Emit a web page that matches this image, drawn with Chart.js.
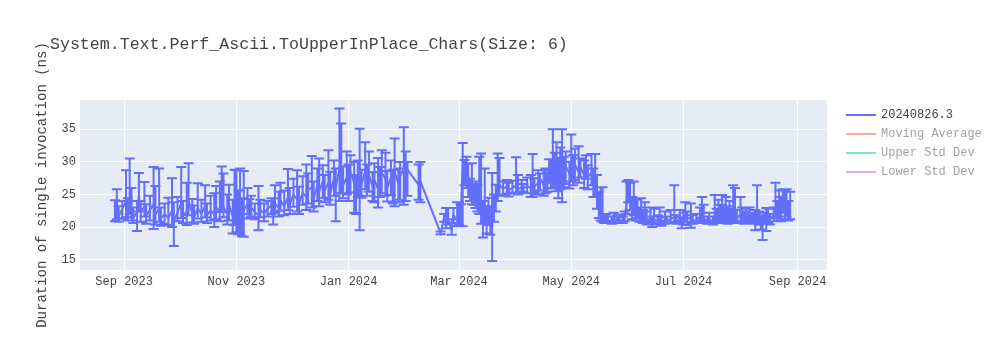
<!DOCTYPE html>
<html>
<head>
<meta charset="utf-8">
<script src="https://cdn.jsdelivr.net/npm/chart.js@4.4.1/dist/chart.umd.min.js"></script>
<style>
  html, body { margin: 0; padding: 0; background: #fff; }
  canvas { display: block; }
</style>
</head>
<body>
<canvas id="chart" width="1000" height="350"></canvas>
<script>
// data, one line per month
const dates = [
  '2023-08-27','2023-08-28','2023-08-29','2023-08-31',
  '2023-09-02','2023-09-03','2023-09-04','2023-09-05','2023-09-06','2023-09-08','2023-09-09','2023-09-10','2023-09-12','2023-09-13','2023-09-15','2023-09-17','2023-09-18','2023-09-20','2023-09-21','2023-09-23','2023-09-25','2023-09-27','2023-09-28','2023-09-30',
  '2023-10-02','2023-10-03','2023-10-05','2023-10-06','2023-10-08','2023-10-09','2023-10-11','2023-10-13','2023-10-15','2023-10-16','2023-10-18','2023-10-20','2023-10-21','2023-10-23','2023-10-24','2023-10-25','2023-10-27','2023-10-28','2023-10-30','2023-10-31',
  '2023-11-01','2023-11-02','2023-11-03','2023-11-04','2023-11-05','2023-11-07','2023-11-08','2023-11-09','2023-11-11','2023-11-13','2023-11-14','2023-11-16','2023-11-18','2023-11-20','2023-11-21','2023-11-22','2023-11-24','2023-11-25','2023-11-27','2023-11-29','2023-11-30',
  '2023-12-02','2023-12-04','2023-12-05','2023-12-07','2023-12-09','2023-12-10','2023-12-12','2023-12-13','2023-12-15','2023-12-16','2023-12-18','2023-12-19','2023-12-21','2023-12-22','2023-12-24','2023-12-25','2023-12-27','2023-12-28','2023-12-29','2023-12-31',
  '2024-01-01','2024-01-02','2024-01-04','2024-01-05','2024-01-06','2024-01-07','2024-01-08','2024-01-10','2024-01-11','2024-01-12','2024-01-14','2024-01-15','2024-01-17','2024-01-18','2024-01-19','2024-01-21','2024-01-22','2024-01-24','2024-01-25','2024-01-26','2024-01-28','2024-01-29','2024-01-31',
  '2024-02-01','2024-02-02','2024-02-08','2024-02-09','2024-02-20','2024-02-22','2024-02-23','2024-02-24','2024-02-26','2024-02-27','2024-02-29',
  '2024-03-01','2024-03-02','2024-03-03','2024-03-04','2024-03-05','2024-03-06','2024-03-07','2024-03-08','2024-03-09','2024-03-10','2024-03-11','2024-03-12','2024-03-13','2024-03-14','2024-03-15','2024-03-16','2024-03-17','2024-03-18','2024-03-19','2024-03-20','2024-03-21','2024-03-22','2024-03-23','2024-03-25','2024-03-27','2024-03-28','2024-03-30',
  '2024-04-01','2024-04-02','2024-04-04','2024-04-05','2024-04-07','2024-04-09','2024-04-10','2024-04-11','2024-04-13','2024-04-14','2024-04-16','2024-04-17','2024-04-18','2024-04-19','2024-04-20','2024-04-21','2024-04-22','2024-04-23','2024-04-24','2024-04-25','2024-04-26','2024-04-27','2024-04-28','2024-04-30',
  '2024-05-01','2024-05-02','2024-05-03','2024-05-05','2024-05-06','2024-05-08','2024-05-09','2024-05-10','2024-05-12','2024-05-13','2024-05-14','2024-05-15','2024-05-16','2024-05-17','2024-05-18','2024-05-19','2024-05-20','2024-05-21','2024-05-23','2024-05-24','2024-05-26','2024-05-27','2024-05-29','2024-05-30','2024-05-31',
  '2024-06-01','2024-06-02','2024-06-03','2024-06-04','2024-06-05','2024-06-06','2024-06-07','2024-06-08','2024-06-09','2024-06-10','2024-06-11','2024-06-13','2024-06-14','2024-06-15','2024-06-17','2024-06-18','2024-06-19','2024-06-21','2024-06-22','2024-06-24','2024-06-26','2024-06-27','2024-06-29','2024-06-30',
  '2024-07-01','2024-07-02','2024-07-03','2024-07-05','2024-07-06','2024-07-08','2024-07-10','2024-07-11','2024-07-12','2024-07-14','2024-07-15','2024-07-17','2024-07-18','2024-07-19','2024-07-20','2024-07-21','2024-07-22','2024-07-23','2024-07-24','2024-07-25','2024-07-26','2024-07-27','2024-07-28','2024-07-29','2024-07-30',
  '2024-08-01','2024-08-02','2024-08-03','2024-08-04','2024-08-05','2024-08-06','2024-08-07','2024-08-08','2024-08-09','2024-08-10','2024-08-11','2024-08-12','2024-08-13','2024-08-14','2024-08-15','2024-08-16','2024-08-17','2024-08-19','2024-08-20','2024-08-21','2024-08-22','2024-08-23','2024-08-24','2024-08-25','2024-08-26','2024-08-27','2024-08-28'
];

const values = [
  22.3,23.4,21.6,22.8,
  23.9,22.1,24.6,22.5,21.4,22.2,24.8,22.4,23.1,21.8,22.6,23.5,21.9,22.8,21.3,22.0,21.4,22.5,20.8,22.3,
  23.6,21.7,22.4,24.0,22.1,21.5,22.9,22.0,23.2,21.8,22.6,21.9,23.0,22.4,24.5,23.0,22.1,23.4,21.6,22.8,
  22.5,21.3,23.0,21.8,22.6,23.5,22.4,23.0,22.3,21.8,22.6,22.1,22.8,23.3,22.1,23.6,22.9,24.0,23.2,24.5,23.4,
  25.0,24.2,23.5,25.3,24.6,25.8,26.0,24.3,26.5,25.4,27.0,25.6,26.8,25.2,27.4,26.0,29.0,28.0,26.4,27.6,
  26.2,28.4,26.8,25.2,27.9,29.5,26.5,28.6,27.0,28.0,26.2,27.3,25.8,27.0,28.3,27.4,26.0,27.6,26.3,28.5,26.7,27.8,29.0,
  27.2,28.8,26.5,27.0,19.1,21.6,20.5,21.2,19.5,21.8,21.0,
  22.4,22.0,29.8,28.5,29.2,26.0,25.2,25.6,24.8,25.3,23.5,24.2,22.5,21.2,23.0,20.8,22.2,21.0,20.4,22.6,24.1,25.8,26.4,25.9,26.2,25.7,26.0,
  26.4,25.8,26.1,25.9,26.3,26.0,27.3,26.2,26.8,27.5,26.4,27.8,26.9,29.2,28.3,30.0,28.8,29.6,28.0,29.9,30.5,28.6,29.4,28.2,
  30.1,28.9,29.6,28.4,29.2,28.0,29.0,27.6,28.4,27.2,26.0,24.2,22.6,23.4,21.4,20.9,21.2,20.9,21.0,21.3,20.9,21.1,21.0,21.4,23.5,
  25.0,24.2,22.8,23.6,22.0,22.8,21.6,22.4,21.3,21.8,21.0,21.3,20.8,21.2,20.9,21.4,20.8,21.1,20.9,21.2,21.5,20.9,21.2,20.7,
  21.0,21.8,21.2,21.5,20.9,21.1,21.6,22.0,21.3,20.8,21.2,20.9,21.8,21.3,22.2,21.6,22.5,21.4,22.0,21.6,22.3,21.2,22.6,21.8,21.3,
  22.0,21.5,21.0,21.6,21.2,21.8,21.3,21.0,21.4,22.0,21.2,20.9,20.6,21.3,21.0,21.6,21.2,21.8,22.8,22.2,23.4,22.0,23.6,22.4,23.2,22.0,22.6
];

// top and bottom of each error bar
const upper = [
  24.1,25.8,23.2,24.0,
  28.7,24.4,30.5,26.0,23.0,24.0,28.3,24.0,26.9,23.5,24.8,29.2,26.3,29.0,23.0,23.6,24.5,27.5,23.8,24.6,
  29.2,24.0,26.8,29.8,24.3,23.3,26.7,24.2,26.4,23.6,24.8,25.2,26.3,27.0,29.3,28.2,25.0,26.5,24.2,28.8,
  28.7,25.6,29.0,24.4,28.6,26.0,24.3,24.8,23.6,26.3,24.2,23.6,24.0,24.4,24.4,26.4,25.4,26.8,25.6,28.9,26.0,
  27.4,28.7,26.2,27.8,29.6,28.2,30.9,27.0,29.0,30.5,29.5,28.0,31.8,28.5,30.2,29.0,38.2,35.9,29.3,31.6,
  29.6,31.0,30.0,28.0,30.2,35.1,28.8,33.0,29.6,31.6,28.4,29.8,30.6,29.2,31.8,31.4,28.6,30.2,28.8,33.6,29.0,30.0,35.3,
  31.6,30.0,29.6,30.0,19.3,22.0,22.9,22.9,21.2,22.9,23.8,
  23.8,23.5,32.9,30.3,30.8,29.7,27.4,29.8,26.6,27.0,26.5,30.8,31.3,24.0,29.0,23.2,24.5,23.0,28.3,25.0,26.5,31.3,30.6,27.0,27.2,26.8,27.1,
  30.7,28.0,27.2,26.6,27.6,28.0,31.2,27.5,28.7,28.2,28.7,29.0,28.3,30.4,30.4,35.0,31.4,33.0,30.6,32.2,35.0,30.8,31.6,30.0,
  34.2,31.0,32.0,32.4,30.5,30.2,31.0,29.5,31.2,29.0,31.2,28.0,25.4,26.1,26.1,21.8,22.0,21.6,21.6,22.2,21.5,21.9,21.6,22.4,27.0,
  27.2,26.8,24.6,27.0,24.4,24.2,23.0,24.4,22.6,23.8,22.4,23.0,21.6,22.8,21.8,23.0,21.5,22.4,21.6,22.6,26.4,21.8,22.6,21.5,
  22.2,23.8,22.4,23.6,21.8,22.0,23.0,24.6,23.4,21.6,22.2,21.6,24.9,22.8,24.2,23.4,24.9,23.0,24.6,23.2,24.0,22.8,26.4,26.0,22.6,
  24.6,23.0,22.4,22.8,22.2,23.0,22.2,22.0,22.6,26.4,22.4,21.8,21.6,22.2,22.9,22.8,22.0,23.0,26.8,24.0,25.6,24.6,25.8,25.6,25.8,24.0,25.4
];

const lower = [
  20.9,21.2,20.8,21.3,
  21.5,21.0,22.0,21.0,20.6,19.4,22.4,20.8,21.6,20.5,21.0,19.7,20.4,20.8,20.2,20.5,20.3,20.0,17.1,20.9,
  21.4,20.6,20.3,21.8,20.7,20.5,21.3,20.8,21.5,20.6,21.0,20.0,21.2,20.9,22.3,21.5,20.4,21.0,19.0,20.3,
  19.2,18.9,19.0,18.6,18.5,22.0,21.3,21.6,21.2,19.5,21.5,20.9,21.6,22.0,20.4,22.2,21.6,22.5,21.8,22.6,22.0,
  23.1,22.4,22.0,23.4,22.6,23.6,23.0,22.4,24.0,23.2,24.5,23.8,24.2,23.4,24.8,20.9,24.0,25.2,24.4,25.0,
  24.0,25.3,22.2,22.0,24.6,19.5,24.5,25.8,24.8,25.4,24.0,23.8,23.0,24.6,25.2,24.8,23.9,24.9,23.6,23.2,23.8,24.2,23.4,
  24.0,24.8,24.2,23.8,18.9,20.8,19.8,20.4,18.8,20.6,20.1,
  20.3,20.1,20.1,26.4,26.0,24.6,24.0,23.5,23.4,22.9,22.4,22.0,20.5,18.4,20.8,19.0,20.3,18.8,14.8,20.8,22.4,24.0,24.8,25.0,25.1,24.7,25.3,
  25.2,25.0,25.3,25.4,25.2,24.6,24.6,25.3,25.0,25.6,24.8,25.2,25.4,26.8,25.9,26.0,26.2,25.5,24.4,25.8,23.8,26.1,26.6,25.9,
  27.0,26.4,27.2,26.8,27.6,26.0,27.4,25.8,26.4,24.6,24.6,22.8,21.4,21.0,20.8,20.6,20.8,20.6,20.5,20.8,20.6,20.7,20.6,20.9,22.0,
  23.8,22.6,21.2,21.8,21.0,21.4,20.8,21.0,20.6,20.9,20.4,20.6,20.0,20.5,20.4,20.7,20.2,20.5,20.6,20.7,20.8,20.5,20.6,19.8,
  20.4,20.8,20.3,19.9,20.5,20.6,20.8,21.0,20.6,20.5,20.6,20.4,20.8,20.6,21.0,20.7,21.2,20.6,21.0,20.5,20.8,20.6,21.0,20.8,20.6,
  20.9,20.7,20.5,20.8,20.6,20.9,20.7,20.5,19.5,20.8,20.4,19.6,18.0,20.5,19.4,20.6,20.4,20.9,21.4,21.0,21.6,20.9,22.2,21.2,21.6,21.0,21.2
];

const seriesName = '20240826.3';
const otherSeries = ['Moving Average', 'Upper Std Dev', 'Lower Std Dev'];
const xTickDates = ['2023-09-01', '2023-11-01', '2024-01-01', '2024-03-01', '2024-05-01', '2024-07-01', '2024-09-01'];
const xTickLabels = ['Sep 2023', 'Nov 2023', 'Jan 2024', 'Mar 2024', 'May 2024', 'Jul 2024', 'Sep 2024'];
const yTicks = [15, 20, 25, 30, 35];
const xRange = ['2023-08-08', '2024-09-17'];
const yRange = [13.4, 39.5];
const chartTitle = 'System.Text.Perf_Ascii.ToUpperInPlace_Chars(Size: 6)';
const yTitle = 'Duration of single invocation (ns)';

// styles
const FONT = "'Liberation Mono', 'Courier New', monospace";
const TEXT = '#444';
const BLUE = '#636efa';
const otherColors = ['#EF553B', '#00cc96', '#ab63fa'];
const CAP = 5; // half width of the error bar caps

// plugins
const plotBg = {
  id: 'plotBg',
  beforeDraw(chart) {
    const {ctx, chartArea: a} = chart;
    ctx.save();
    ctx.fillStyle = '#e5ecf6';
    ctx.fillRect(a.left, a.top, a.width, a.height);
    ctx.restore();
  }
};

const errorBars = {
  id: 'errorBars',
  afterDatasetsDraw(chart) {
    const {ctx, chartArea: a, scales: {x, y}} = chart;
    ctx.save();
    ctx.beginPath();
    ctx.rect(a.left, a.top, a.width, a.height);
    ctx.clip();
    ctx.strokeStyle = BLUE;
    ctx.lineWidth = 2;
    ctx.beginPath();
    for (let i = 0; i < dates.length; i++) {
      const px = x.getPixelForValue(Date.parse(dates[i]));
      const top = y.getPixelForValue(upper[i]);
      const bot = y.getPixelForValue(lower[i]);
      ctx.moveTo(px, top); ctx.lineTo(px, bot);
      ctx.moveTo(px - CAP, top); ctx.lineTo(px + CAP, top);
      ctx.moveTo(px - CAP, bot); ctx.lineTo(px + CAP, bot);
    }
    ctx.stroke();
    ctx.restore();
  }
};

const titleAndLegend = {
  id: 'titleAndLegend',
  afterDraw(chart) {
    const {ctx, chartArea: a} = chart;
    ctx.save();
    ctx.textBaseline = 'middle';
    ctx.fillStyle = TEXT;
    ctx.font = '16.6px ' + FONT;
    ctx.fillText(chartTitle, 50, 45);

    ctx.font = '12px ' + FONT;
    const items = [{name: seriesName, color: BLUE, alpha: 1}]
      .concat(otherSeries.map((n, i) => ({name: n, color: otherColors[i], alpha: 0.5})));
    items.forEach((it, i) => {
      const ly = 115 + i * 19;
      ctx.globalAlpha = it.alpha;
      ctx.strokeStyle = it.color;
      ctx.lineWidth = 2;
      ctx.beginPath();
      ctx.moveTo(a.right + 19, ly);
      ctx.lineTo(a.right + 49, ly);
      ctx.stroke();
      ctx.fillStyle = TEXT;
      ctx.fillText(it.name, a.right + 54, ly);
    });
    ctx.restore();
  }
};

new Chart(document.getElementById('chart'), {
  type: 'line',
  data: {
    datasets: [{
      label: seriesName,
      data: dates.map((d, i) => ({x: Date.parse(d), y: values[i]})),
      borderColor: BLUE,
      backgroundColor: BLUE,
      borderWidth: 2,
      pointRadius: 0,
      tension: 0,
      fill: false
    }]
  },
  options: {
    responsive: false,
    animation: false,
    layout: {padding: {left: 30, right: 173, top: 100, bottom: 0}},
    plugins: {
      legend: {display: false},
      tooltip: {enabled: false}
    },
    scales: {
      x: {
        type: 'linear',
        min: Date.parse(xRange[0]),
        max: Date.parse(xRange[1]),
        afterBuildTicks: s => { s.ticks = xTickDates.map(d => ({value: Date.parse(d)})); },
        afterFit: s => { s.height = 80; },
        grid: {color: '#fff', lineWidth: 1, drawTicks: false},
        border: {display: false},
        ticks: {
          font: {family: FONT, size: 12},
          color: TEXT,
          padding: 5,
          maxRotation: 0,
          autoSkip: false,
          callback: (v, i) => xTickLabels[i]
        }
      },
      y: {
        min: yRange[0],
        max: yRange[1],
        afterBuildTicks: s => { s.ticks = yTicks.map(v => ({value: v})); },
        afterFit: s => { s.width = 50; },
        grid: {color: '#fff', lineWidth: 1, drawTicks: false},
        border: {display: false},
        ticks: {font: {family: FONT, size: 12}, color: TEXT, padding: 4},
        title: {
          display: true,
          text: yTitle,
          font: {family: FONT, size: 14},
          color: TEXT,
          padding: {top: 4, bottom: 4}
        }
      }
    }
  },
  plugins: [plotBg, errorBars, titleAndLegend]
});
</script>
</body>
</html>
